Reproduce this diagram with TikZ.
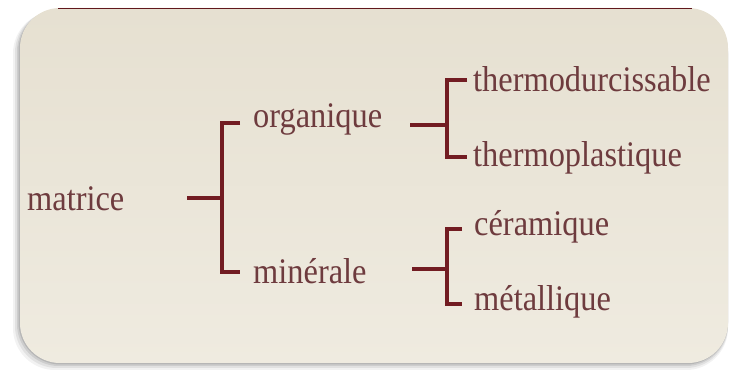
\documentclass[tikz,border=0pt]{standalone}
\usepackage{fontspec}
\setmainfont{Liberation Serif}[FakeStretch=0.9]
\usetikzlibrary{calc}
\definecolor{txt}{HTML}{6E3B3E}
\definecolor{brk}{HTML}{721C22}
\definecolor{papertop}{HTML}{E6E0D1}
\definecolor{paperbot}{HTML}{EFEBE0}
\tikzset{
  x=1pt, y=-1pt,
  lbl/.style={anchor=base west, inner sep=0pt, text=txt, font=\fontsize{36}{40}\selectfont},
  bracket/.style={draw=brk, line width=4pt, line join=miter, line cap=butt},
}
\begin{document}
\begin{tikzpicture}
\useasboundingbox (0,0) rectangle (734,371);
% shadow
\foreach \o/\a in {7/0.05,5/0.07,3/0.09,1.5/0.11}{
  \fill[black, opacity=\a, rounded corners=42pt] (20-\o,8+0.5*\o) rectangle (728,363+\o);
}
% card
\shade[top color=papertop, bottom color=paperbot, rounded corners=40pt] (20,8) rectangle (728,363);
\draw[brk!85!black, line width=1.4pt] (58,8.7) -- (692,8.7);

% labels
\node[lbl] (mat) at (27,211) {matrice};
\node[lbl] (org) at (253,128) {organique};
\node[lbl] (min) at (253,284) {minérale};
\node[lbl] (tdu) at (473,92) {thermodurcissable};
\node[lbl] (tpl) at (473,167) {thermoplastique};
\node[lbl] (cer) at (474,236) {céramique};
\node[lbl] (met) at (474,311) {métallique};

% bracket 1
\coordinate (b1s) at (187,198);
\coordinate (b1m) at (222,198);
\coordinate (b1t) at (222,123);
\coordinate (b1b) at (222,272);
\draw[bracket] (b1s) -- (b1m);
\draw[bracket] (240,123) -- (b1t) -- (b1b) -- (240,272);

% bracket 2
\coordinate (b2s) at (410,125);
\coordinate (b2m) at (447,125);
\coordinate (b2t) at (447,80);
\coordinate (b2b) at (447,157);
\draw[bracket] (b2s) -- (b2m);
\draw[bracket] (467,80) -- (b2t) -- (b2b) -- (467,157);

% bracket 3
\coordinate (b3s) at (412,269);
\coordinate (b3m) at (447,269);
\coordinate (b3t) at (447,229);
\coordinate (b3b) at (447,304);
\draw[bracket] (b3s) -- (b3m);
\draw[bracket] (462,229) -- (b3t) -- (b3b) -- (462,304);
\end{tikzpicture}
\end{document}
